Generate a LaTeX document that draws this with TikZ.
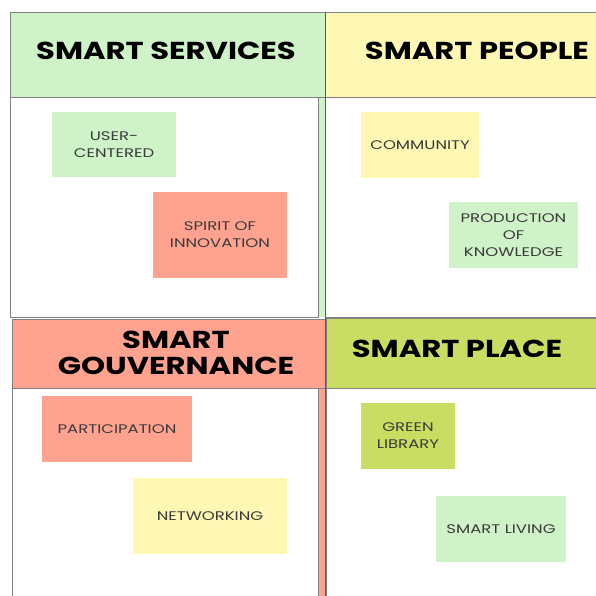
\documentclass[tikz,border=0pt]{standalone}
\usepackage{fontspec}
\setmainfont{Poppins}
\definecolor{lgreen}{HTML}{D0F2C8}
\definecolor{lyellow}{HTML}{FFF7B4}
\definecolor{lsalmon}{HTML}{FFA390}
\definecolor{ygreen}{HTML}{C8DD62}
\definecolor{bordergray}{HTML}{808080}
\definecolor{txtgray}{HTML}{3A3A3A}
\tikzset{
  panel/.style={draw=bordergray, line width=0.9pt},
  hdrtext/.style={font=\fontsize{24.5}{26}\selectfont\bfseries, text=black, align=center, inner sep=0pt, xscale=1.25, transform shape},
  note/.style={font=\fontsize{12.5}{17}\selectfont, text=txtgray, align=center, inner sep=0pt, xscale=1.32, transform shape},
}
\begin{document}
\begin{tikzpicture}[x=1pt,y=-1pt]
\useasboundingbox[fill=white] (0,0) rectangle (596,596);
% top-left
\fill[lgreen] (318,97) rectangle (325,317);
\draw[panel, fill=white] (10,97) rectangle (318,317);
\draw[panel, fill=lgreen] (10,12) rectangle (325,97);
% top-right
\draw[panel, fill=white] (325,97) rectangle (600,317);
\draw[panel, fill=lyellow] (325,12) rectangle (600,97);
% bottom-left
\fill[lsalmon] (318,388) rectangle (326,600);
\draw[panel, fill=white] (12,388) rectangle (318,600);
\draw[panel, fill=lsalmon] (12,319) rectangle (325,388);
% bottom-right
\draw[panel, fill=white] (326,388) rectangle (600,600);
\draw[panel, fill=ygreen] (326,318) rectangle (600,388);
\draw[bordergray!70!black, line width=1pt] (325,12) -- (325,596);
% headers
\node[hdrtext] (hs) at (166,51) {SMART SERVICES};
\node[hdrtext] (hp) at (477,51) {SMART PEOPLE};
\node[hdrtext] (hg) at (176,353) {SMART\\GOUVERNANCE};
\node[hdrtext] (hl) at (457,349) {SMART PLACE};
% notes
\fill[lgreen] (52,112) rectangle (176,177);
\node[note] (n1) at (114,144.5) {USER-\\CENTERED};
\fill[lsalmon] (153,192) rectangle (287,278);
\node[note] (n2) at (220,235) {SPIRIT OF\\INNOVATION};
\fill[lyellow] (361,112) rectangle (479,178);
\node[note] (n3) at (420,145) {COMMUNITY};
\fill[lgreen] (449,202) rectangle (578,268);
\node[note] (n4) at (513.5,235) {PRODUCTION\\OF\\KNOWLEDGE};
\fill[lsalmon] (42,396) rectangle (192,462);
\node[note] (n5) at (117,429) {PARTICIPATION};
\fill[lyellow] (133,478) rectangle (287,554);
\node[note] (n6) at (210,516) {NETWORKING};
\fill[ygreen] (361,403) rectangle (455,469);
\node[note] (n7) at (408,436) {GREEN\\LIBRARY};
\fill[lgreen] (436,496) rectangle (566,562);
\node[note] (n8) at (501,529) {SMART LIVING};
\end{tikzpicture}
\end{document}
